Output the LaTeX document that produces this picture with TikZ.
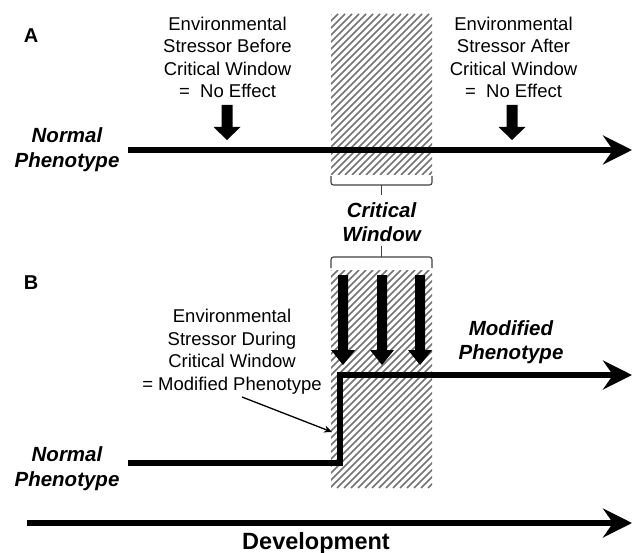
\documentclass[tikz,border=0pt]{standalone}
\usepackage{fontspec}
\setmainfont{Liberation Sans}
\usetikzlibrary{arrows.meta}
\tikzset{
  mainarrow/.style={line width=6pt, -{Stealth[length=29pt,width=29pt,inset=10pt]}, line join=miter},
  hatchline/.style={black!55, line width=1.7pt},
  bracestyle/.style={black!75, line width=1.1pt, rounded corners=2.5pt},
  plaintext/.style={inner sep=0pt, align=center, font=\fontsize{18.5}{22.5}\selectfont},
  bitext/.style={inner sep=0pt, align=center, font=\fontsize{20.5}{24.5}\selectfont\bfseries\itshape},
  paneltext/.style={inner sep=0pt, font=\fontsize{20}{24}\selectfont\bfseries},
  downA/.pic={\fill (-5.5,0) -- (5.5,0) -- (5.5,22) -- (13.5,22) -- (0,35) -- (-13.5,22) -- (-5.5,22) -- cycle;},
  downB/.pic={\fill (-5,0) -- (5,0) -- (5,75) -- (12,75) -- (0,90) -- (-12,75) -- (-5,75) -- cycle;}
}
\begin{document}
\begin{tikzpicture}[x=1pt,y=-1pt]
\useasboundingbox (0,0) rectangle (634,553);
% hatched windows
\begin{scope}
  \clip (331,14) rectangle (432,175);
  \foreach \s in {163,170,...,440} \draw[hatchline] (\s,175) -- ++(161,-161);
\end{scope}
\begin{scope}
  \clip (331,270) rectangle (432,488);
  \foreach \s in {106,113,...,440} \draw[hatchline] (\s,488) -- ++(218,-218);
\end{scope}
% panel labels
\node[paneltext] (labA) at (31,36) {A};
\node[paneltext] (labB) at (31,283) {B};
% Panel A
\node[plaintext] (before) at (227.5,57.5) {Environmental\\Stressor Before\\Critical Window\\=\ \ No Effect};
\node[plaintext] (after) at (513.5,57.5) {Environmental\\Stressor After\\Critical Window\\=\ \ No Effect};
\node[bitext] (normA) at (67,149.5) {Normal\\Phenotype};
\pic at (227,105) {downA};
\pic at (512,105) {downA};
\coordinate (a0) at (128,150);
\coordinate (a1) at (632,150);
\draw[mainarrow] (a0) -- (a1);
% braces
\draw[bracestyle] (331,176) -- (331,185) -- (432,185) -- (432,176);
\draw[bracestyle] (381.5,185) -- (381.5,195);
\node[bitext] (cw) at (381.5,222) {Critical\\Window};
\draw[bracestyle] (331,268) -- (331,257) -- (432,257) -- (432,268);
\draw[bracestyle] (381.5,246) -- (381.5,257);
% Panel B
\pic at (343,275) {downB};
\pic at (382,275) {downB};
\pic at (420,275) {downB};
\node[plaintext] (during) at (232,351.5) {Environmental\\Stressor During\\Critical Window\\= Modified Phenotype};
\node[bitext] (mod) at (511,342) {Modified\\Phenotype};
\node[bitext] (normB) at (67,468.5) {Normal\\Phenotype};
\coordinate (b0) at (128,463);
\coordinate (b1) at (340,463);
\coordinate (b2) at (340,375);
\coordinate (b3) at (632,375);
\draw[mainarrow] (b0) -- (b1) -- (b2) -- (b3);
\coordinate (p0) at (242,397);
\coordinate (p1) at (332,432);
\draw[line width=1.3pt, -{Stealth[length=8pt,width=7pt]}] (p0) -- (p1);
% development axis
\coordinate (d0) at (27,523);
\coordinate (d1) at (632,523);
\draw[mainarrow] (d0) -- (d1);
\node[inner sep=0pt, font=\fontsize{23.5}{28}\selectfont\bfseries] (dev) at (316,543) {Development};
\end{tikzpicture}
\end{document}
